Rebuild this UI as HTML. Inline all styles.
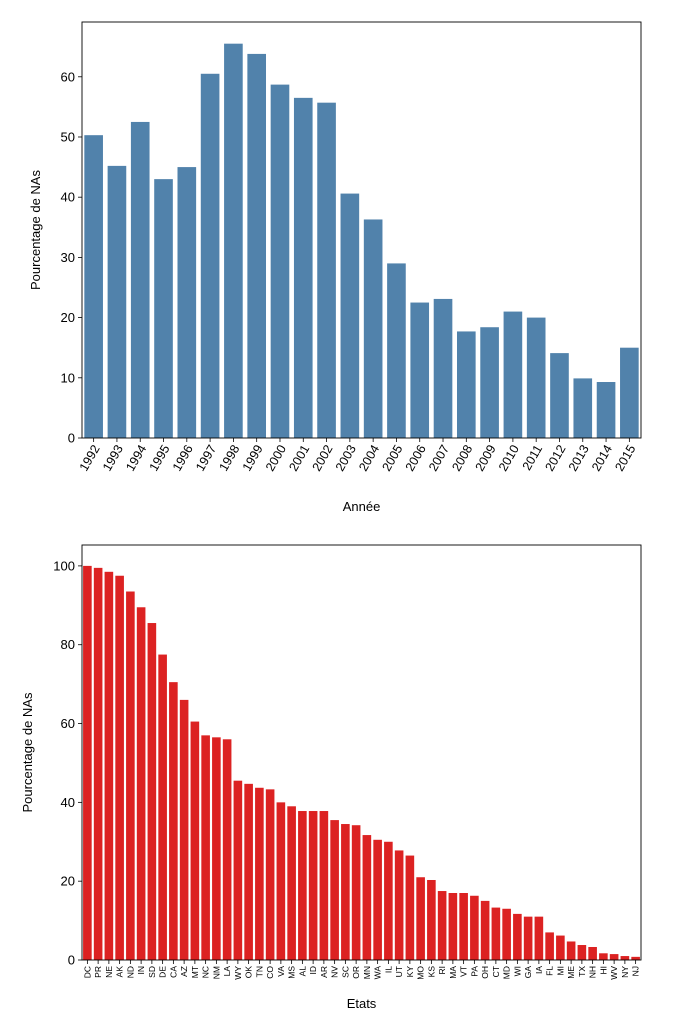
<!DOCTYPE html>
<html><head><meta charset="utf-8"><style>
html,body{margin:0;padding:0;background:#fff;}
svg{display:block;font-family:"Liberation Sans","DejaVu Sans",sans-serif;}
</style></head><body>
<svg id="s" width="688" height="1029" viewBox="0 0 688 1029" xmlns="http://www.w3.org/2000/svg"></svg>
<script>
const years = ["1992","1993","1994","1995","1996","1997","1998","1999","2000","2001","2002","2003","2004","2005","2006","2007","2008","2009","2010","2011","2012","2013","2014","2015"];
const yearValues = [50.3,45.2,52.5,43,45,60.5,65.5,63.8,58.7,56.5,55.7,40.6,36.3,29,22.5,23.1,17.7,18.4,21,20,14.1,9.9,9.3,15];
const yearTicks = [0,10,20,30,40,50,60];
const states = ["DC","PR","NE","AK","ND","IN","SD","DE","CA","AZ","MT","NC","NM","LA","WY","OK","TN","CO","VA","MS","AL","ID","AR","NV","SC","OR","MN","WA","IL","UT","KY","MO","KS","RI","MA","VT","PA","OH","CT","MD","WI","GA","IA","FL","MI","ME","TX","NH","HI","WV","NY","NJ"];
const stateValues = [100,99.5,98.5,97.5,93.5,89.5,85.5,77.5,70.5,66,60.5,57,56.5,56,45.5,44.7,43.7,43.3,40,39,37.8,37.8,37.8,35.5,34.5,34.2,31.7,30.5,30,27.8,26.5,21,20.3,17.5,17,17,16.3,15,13.3,13,11.7,11,11,7,6.2,4.7,3.8,3.3,1.7,1.5,1,0.8];
const stateTicks = [0,20,40,60,80,100];

const NS="http://www.w3.org/2000/svg";
const svg=document.getElementById('s');
function mk(tag,attrs,parent,text){const e=document.createElementNS(NS,tag);for(const k in attrs)e.setAttribute(k,attrs[k]);if(text!==undefined)e.textContent=text;(parent||svg).appendChild(e);return e;}

function chart(cfg){
  const g=mk('g',{});
  
  
  const {L,R,T,B,ymax,cats,vals,ticks,color}=cfg;
  const y=v=>B-(v/ymax)*(B-T);
  const step=(R-L)/cats.length;
  const x=i=>L+step*i;
  cats.forEach((c,i)=>{
    const r=mk('rect',{x:x(i)+step*0.1,y:y(vals[i]),width:step*0.8,height:B-y(vals[i]),fill:color},g);
    
    
    mk('line',{x1:x(i)+step/2,x2:x(i)+step/2,y1:B,y2:B+4,stroke:'#000','stroke-width':0.8},g);
    const cx=x(i)+step/2;
    let t;
    if(cfg.small){
      t=mk('text',{x:0,y:0,'font-size':8.5,'text-anchor':'end','dominant-baseline':'central',transform:`translate(${cx},${B+6}) rotate(-90)`},g,c);
    }else{
      t=mk('text',{x:0,y:0,'font-size':12.5,'text-anchor':'end','dominant-baseline':'central',transform:`translate(${cx+3},${B+8}) rotate(-60)`},g,c);
    }
    
    
  });
  ticks.forEach(v=>{
    mk('line',{x1:L-4,x2:L,y1:y(v),y2:y(v),stroke:'#000','stroke-width':0.8},g);
    const t=mk('text',{x:L-7,y:y(v),'font-size':13,'text-anchor':'end','dominant-baseline':'central'},g,String(v));
    
    
  });
  const f=mk('rect',{x:L,y:T,width:R-L,height:B-T,fill:'none',stroke:'#000','stroke-width':0.9},g);
  
  
  const yt=mk('text',{x:0,y:0,'font-size':13,'text-anchor':'middle',transform:`translate(${cfg.ytx},${(T+B)/2}) rotate(-90)`},g,'Pourcentage de NAs');
  
  
  const xt=mk('text',{x:(L+R)/2,y:cfg.xty,'font-size':13,'text-anchor':'middle'},g,cfg.xtitle);
  
  
}
chart({name:'year-chart',L:82,R:641,T:22,B:438,ymax:69.1,cats:years,vals:yearValues,ticks:yearTicks,color:'#5182ab',ytx:40,xty:511,xtitle:'Année'});
chart({name:'state-chart',L:82,R:641,T:545,B:960,ymax:105.3,cats:states,vals:stateValues,ticks:stateTicks,color:'#dc2222',ytx:32,xty:1008,xtitle:'Etats',small:true});
</script>
</body></html>
